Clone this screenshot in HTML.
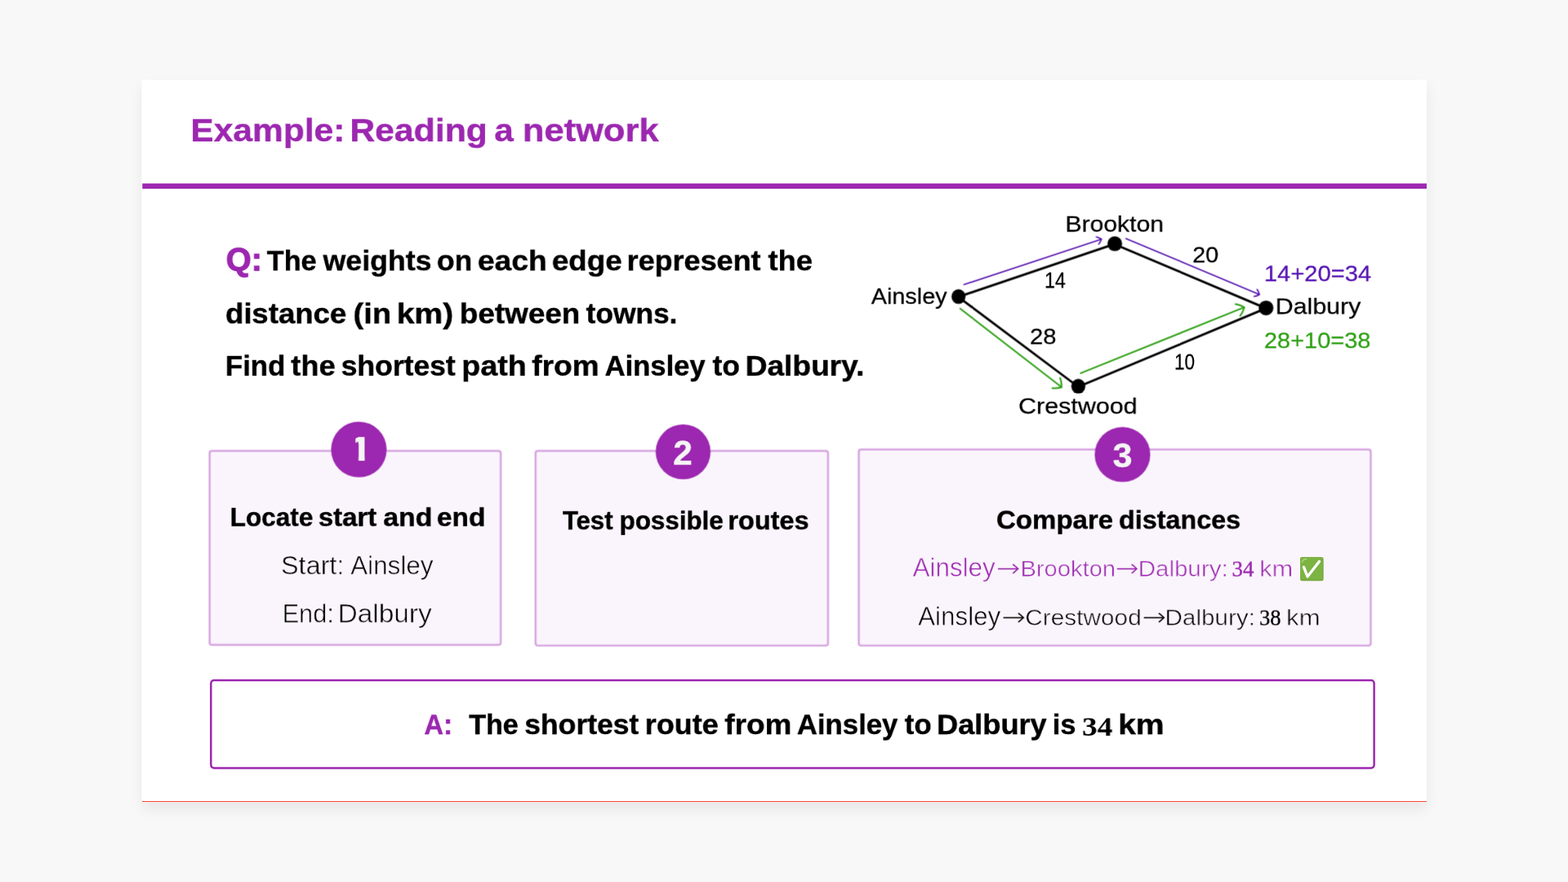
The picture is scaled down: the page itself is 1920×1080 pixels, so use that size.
<!DOCTYPE html><html lang="en"><head><meta charset="utf-8"><title>Example: Reading a network</title><style>
*{box-sizing:border-box;margin:0;padding:0}
html,body{width:1920px;height:1080px;overflow:hidden;background:#f8f8f8}
body{font-family:"Liberation Sans",sans-serif;color:#000;position:relative}
.stage{position:absolute;left:0;top:0;width:1920px;height:1080px;overflow:hidden}
.slide{position:absolute;left:0;top:0;width:1920px;height:1080px;background:#fff;transform-origin:0 0;transform:translate(173.5px,97.6px) scale(.8195);box-shadow:0 10px 20px rgba(0,0,0,.07)}
.foot{position:absolute;left:173.5px;top:981px;width:1573px;height:1px;background:#f44336}
.rule{position:absolute;left:.6px;top:155.2px;width:1919.4px;height:8px;background:#9c27b0}
.t{position:absolute;will-change:transform;white-space:nowrap;line-height:1;font-weight:700;transform-origin:0 0;color:#000;-webkit-text-stroke:.5px currentColor}
.t.r{font-weight:400;-webkit-text-stroke:0}
.graph .t{-webkit-text-stroke:.3px currentColor}
.t.lt{-webkit-text-stroke:.7px #faf5fc}
.t.sf{font-family:"Liberation Serif",serif;-webkit-text-stroke:0}
.t.r.sf{-webkit-text-stroke:.45px currentColor}
.t.hv{-webkit-text-stroke:1.3px currentColor}
.t.ar{font-family:"DejaVu Sans Light","DejaVu Sans",sans-serif;font-weight:200}
.t.pu{color:#9c27b0}
.t.vi{color:#5613b2}
.t.gr{color:#2fa015}
.box{position:absolute;border:3px solid #d7a6e0;background:#faf5fc;border-radius:5px}
.num{position:absolute;border-radius:50%;background:#9c27b0}
.node{position:absolute;border-radius:50%;background:#000}
.ans{position:absolute;border:3px solid #9c27b0;background:#fff;border-radius:6px}
svg{position:absolute;left:0;top:0;overflow:visible}
h1,p{font:inherit;margin:0}
</style></head><body><div class="stage"><main class="slide"><header><h1><span class="t pu" style="left:73.33px;top:50.89px;font-size:48.99px;transform:scaleX(1.0590)">Example:</span> <span class="t pu" style="left:311.08px;top:50.89px;font-size:48.99px;transform:scaleX(1.0640)">Reading</span> <span class="t pu" style="left:526.84px;top:50.89px;font-size:48.99px;transform:scaleX(1.0476)">a</span> <span class="t pu" style="left:568.74px;top:50.89px;font-size:48.99px;transform:scaleX(1.0839)">network</span></h1><div class="rule"></div></header><section class="question"><p><span class="t hv pu" style="left:125.64px;top:244.81px;font-size:47.17px;transform:scaleX(1.0279)">Q:</span> <span class="t" style="left:186.70px;top:248.81px;font-size:42.87px;transform:scaleX(0.9760)">The</span> <span class="t" style="left:271.33px;top:248.81px;font-size:42.87px;transform:scaleX(1.0162)">weights</span> <span class="t" style="left:440.87px;top:248.81px;font-size:42.87px;transform:scaleX(1.0095)">on</span> <span class="t" style="left:501.57px;top:248.81px;font-size:42.87px;transform:scaleX(1.0599)">each</span> <span class="t" style="left:612.75px;top:248.81px;font-size:42.87px;transform:scaleX(1.0460)">edge</span> <span class="t" style="left:724.77px;top:248.81px;font-size:42.87px;transform:scaleX(1.0239)">represent</span> <span class="t" style="left:936.18px;top:248.81px;font-size:42.87px;transform:scaleX(1.0325)">the</span> <span class="t" style="left:125.27px;top:327.64px;font-size:42.87px;transform:scaleX(1.0409)">distance</span> <span class="t" style="left:315.94px;top:327.64px;font-size:42.87px;transform:scaleX(1.0866)">(in</span> <span class="t" style="left:380.55px;top:327.64px;font-size:42.87px;transform:scaleX(1.1118)">km)</span> <span class="t" style="left:474.55px;top:327.64px;font-size:42.87px;transform:scaleX(1.0501)">between</span> <span class="t" style="left:664.06px;top:327.64px;font-size:42.87px;transform:scaleX(1.0059)">towns.</span> <span class="t" style="left:124.50px;top:405.73px;font-size:42.87px;transform:scaleX(0.9901)">Find</span> <span class="t" style="left:222.82px;top:405.73px;font-size:42.87px;transform:scaleX(1.0344)">the</span> <span class="t" style="left:297.98px;top:405.73px;font-size:42.87px;transform:scaleX(1.0100)">shortest</span> <span class="t" style="left:478.15px;top:405.73px;font-size:42.87px;transform:scaleX(1.0732)">path</span> <span class="t" style="left:583.43px;top:405.73px;font-size:42.87px;transform:scaleX(1.0535)">from</span> <span class="t" style="left:692.32px;top:405.73px;font-size:42.87px;transform:scaleX(0.9853)">Ainsley</span> <span class="t" style="left:853.33px;top:405.73px;font-size:42.87px;transform:scaleX(1.0060)">to</span> <span class="t" style="left:901.75px;top:405.73px;font-size:42.87px;transform:scaleX(1.0556)">Dalbury.</span></p></section><figure class="graph"><svg width="1920" height="1080" viewBox="0 0 1920 1080" aria-hidden="true"><g stroke="#000" stroke-width="3.42" stroke-linecap="round" fill="none"><line x1="1220.38" y1="324.47" x2="1453.81" y2="245.39"/><line x1="1453.81" y1="245.82" x2="1679.93" y2="341.49"/><line x1="1220.38" y1="324.83" x2="1399.33" y2="458.82"/><line x1="1399.33" y1="458.88" x2="1679.93" y2="341.49"/></g><g fill="none" stroke="#520fae" stroke-width="1.95" stroke-linejoin="miter" stroke-miterlimit="6"><line x1="1227.94" y1="306.28" x2="1434.12" y2="238.22"/><path d="M1429.52 246.28Q1432.63 242.71 1434.12 238.22Q1430.25 235.51 1425.63 234.49"/></g><g fill="none" stroke="#520fae" stroke-width="1.95" stroke-linejoin="miter" stroke-miterlimit="6"><line x1="1469.92" y1="236.97" x2="1670.16" y2="320.97"/><path d="M1661.41 324.03Q1666.09 323.38 1670.16 320.97Q1669.02 316.38 1666.21 312.58"/></g><g fill="none" stroke="#2fa015" stroke-width="2.44" stroke-linejoin="miter" stroke-miterlimit="6"><line x1="1222.21" y1="341.43" x2="1374.64" y2="459.41"/><path d="M1359.79 460.51Q1367.33 461.45 1374.64 459.41Q1374.78 451.82 1371.99 444.76"/></g><g fill="none" stroke="#2fa015" stroke-width="2.44" stroke-linejoin="miter" stroke-miterlimit="6"><line x1="1402.07" y1="438.80" x2="1647.48" y2="340.03"/><path d="M1640.94 353.41Q1645.55 347.37 1647.48 340.03Q1641.00 336.08 1633.50 334.92"/></g></svg><div class="node" style="left:1209.64px;top:312.93px;width:21.48px;height:22.57px"></div><div class="node" style="left:1443.08px;top:233.86px;width:21.48px;height:22.57px"></div><div class="node" style="left:1669.19px;top:329.53px;width:21.48px;height:22.57px"></div><div class="node" style="left:1388.59px;top:446.92px;width:21.48px;height:22.57px"></div><span class="t r" style="left:1379.68px;top:200.15px;font-size:32.95px;transform:scaleX(1.1164)">Brookton</span> <span class="t r" style="left:1090.18px;top:307.72px;font-size:32.95px;transform:scaleX(1.0662)">Ainsley</span> <span class="t r" style="left:1693.57px;top:323.21px;font-size:32.95px;transform:scaleX(1.1245)">Dalbury</span> <span class="t r" style="left:1310.40px;top:472.45px;font-size:32.95px;transform:scaleX(1.1285)">Crestwood</span> <span class="t r" style="left:1348.74px;top:283.68px;font-size:32.95px;transform:scaleX(0.8619)">14</span> <span class="t r" style="left:1570.16px;top:245.91px;font-size:32.95px;transform:scaleX(1.0678)">20</span> <span class="t r" style="left:1327.18px;top:367.63px;font-size:32.95px;transform:scaleX(1.0841)">28</span> <span class="t r" style="left:1543.37px;top:406.07px;font-size:32.95px;transform:scaleX(0.8330)">10</span> <span class="t r vi" style="left:1677.09px;top:274.04px;font-size:32.95px;transform:scaleX(1.0799)">14+20=34</span> <span class="t r gr" style="left:1677.29px;top:374.34px;font-size:32.95px;transform:scaleX(1.0740)">28+10=38</span></figure><section class="step"><div class="box" style="left:99.69px;top:552.90px;width:438.68px;height:293.11px"></div><div class="num" style="left:283.47px;top:511.41px;width:82.49px;height:82.49px"></div><span class="t" style="left:307.87px;top:527.13px;font-size:50.40px;transform:scaleX(1.3588);color:#f5f5f5;clip-path:polygon(8.10px 6.33px,18.68px 6.33px,18.68px 43.00px,11.76px 43.00px,11.76px 16.83px,8.10px 16.83px)">1</span> <span class="t" style="left:132.13px;top:634.75px;font-size:38.78px;transform:scaleX(0.9928)">Locate</span> <span class="t" style="left:264.15px;top:634.75px;font-size:38.78px;transform:scaleX(1.0370)">start</span> <span class="t" style="left:360.92px;top:634.75px;font-size:38.78px;transform:scaleX(1.0616)">and</span> <span class="t" style="left:440.82px;top:634.75px;font-size:38.78px;transform:scaleX(1.0528)">end</span> <span class="t r lt" style="left:208.28px;top:707.11px;font-size:38.78px;transform:scaleX(1.0203)">Start:</span> <span class="t r lt" style="left:312.02px;top:707.11px;font-size:38.78px;transform:scaleX(0.9897)">Ainsley</span> <span class="t r lt" style="left:209.88px;top:779.10px;font-size:38.78px;transform:scaleX(0.9679)">End:</span> <span class="t r lt" style="left:292.73px;top:779.10px;font-size:38.78px;transform:scaleX(1.0511)">Dalbury</span></section><section class="step"><div class="box" style="left:587.43px;top:552.78px;width:439.29px;height:294.08px"></div><div class="num" style="left:767.79px;top:514.95px;width:82.49px;height:82.49px"></div><span class="t" style="left:793.86px;top:533.47px;font-size:50.03px;transform:scaleX(1.0390);color:#f5f5f5">2</span> <span class="t" style="left:629.04px;top:639.75px;font-size:38.78px;transform:scaleX(0.9771)">Test</span> <span class="t" style="left:713.78px;top:639.75px;font-size:38.78px;transform:scaleX(0.9861)">possible</span> <span class="t" style="left:875.62px;top:639.75px;font-size:38.78px;transform:scaleX(1.0217)">routes</span></section><section class="step"><div class="box" style="left:1069.80px;top:551.43px;width:768.15px;height:296.03px"></div><div class="num" style="left:1424.28px;top:518.73px;width:82.49px;height:82.49px"></div><span class="t" style="left:1450.56px;top:536.77px;font-size:50.03px;transform:scaleX(1.0454);color:#f5f5f5">3</span> <span class="t" style="left:1276.84px;top:638.90px;font-size:38.78px;transform:scaleX(1.0384)">Compare</span> <span class="t" style="left:1459.90px;top:638.90px;font-size:38.78px;transform:scaleX(1.0174)">distances</span> <span class="t r lt pu" style="left:1152.29px;top:710.40px;font-size:38.78px;transform:scaleX(0.9877)">Ainsley</span> <span class="t r ar pu" style="left:1276.83px;top:712.40px;font-size:36.61px;transform:scaleX(1.1667)">→</span> <span class="t r lt pu" style="left:1312.66px;top:714.40px;font-size:33.36px;transform:scaleX(1.0639)">Brookton</span> <span class="t r ar pu" style="left:1454.66px;top:712.40px;font-size:36.61px;transform:scaleX(1.1422)">→</span> <span class="t r lt pu" style="left:1489.25px;top:714.40px;font-size:33.36px;transform:scaleX(1.0804)">Dalbury:</span> <span class="t r sf pu" style="left:1628.96px;top:714.40px;font-size:34.17px;transform:scaleX(0.9638)">34</span> <span class="t r lt pu" style="left:1669.77px;top:714.40px;font-size:33.36px;transform:scaleX(1.1256)">km</span> <span class="t r lt" style="left:1160.34px;top:782.89px;font-size:38.78px;transform:scaleX(0.9877)">Ainsley</span> <span class="t r ar" style="left:1284.75px;top:784.89px;font-size:36.61px;transform:scaleX(1.1689)">→</span> <span class="t r lt" style="left:1320.44px;top:786.89px;font-size:33.36px;transform:scaleX(1.0892)">Crestwood</span> <span class="t r ar" style="left:1494.64px;top:784.89px;font-size:36.61px;transform:scaleX(1.1667)">→</span> <span class="t r lt" style="left:1529.21px;top:786.89px;font-size:33.36px;transform:scaleX(1.0845)">Dalbury:</span> <span class="t r sf" style="left:1670.12px;top:786.89px;font-size:34.17px;transform:scaleX(0.9453)">38</span> <span class="t r lt" style="left:1709.76px;top:786.89px;font-size:33.36px;transform:scaleX(1.1436)">km</span><svg class="emoji" width="1920" height="1080" viewBox="0 0 1920 1080" aria-hidden="true"><rect x="1730.93" y="713.48" width="34.90" height="35.27" rx="2.68" fill="#689f38"/><rect x="1730.93" y="713.48" width="33.80" height="34.17" rx="2.44" fill="#7cb342"/><path d="M1734.11 721.05Q1734.47 716.66 1740.21 716.17" fill="none" stroke="#aed581" stroke-width="1.59" stroke-linecap="round"/><path d="M1736.42 728.25L1741.92 742.40L1759.61 719.83" fill="none" stroke="#fff" stroke-width="4.15" stroke-linecap="round" stroke-linejoin="round"/></svg></section><section class="answer"><div class="ans" style="left:101.59px;top:895.91px;width:1741.85px;height:134.17px"></div><p><span class="t pu" style="left:422.19px;top:942.40px;font-size:42.87px;transform:scaleX(0.9345)">A:</span> <span class="t" style="left:489.44px;top:942.40px;font-size:42.87px;transform:scaleX(0.9695)">The</span> <span class="t" style="left:571.56px;top:942.40px;font-size:42.87px;transform:scaleX(1.0100)">shortest</span> <span class="t" style="left:751.74px;top:942.40px;font-size:42.87px;transform:scaleX(1.0253)">route</span> <span class="t" style="left:870.80px;top:942.40px;font-size:42.87px;transform:scaleX(1.0508)">from</span> <span class="t" style="left:979.08px;top:942.40px;font-size:42.87px;transform:scaleX(0.9893)">Ainsley</span> <span class="t" style="left:1140.33px;top:942.40px;font-size:42.87px;transform:scaleX(0.9935)">to</span> <span class="t" style="left:1188.46px;top:942.40px;font-size:42.87px;transform:scaleX(1.0286)">Dalbury</span> <span class="t" style="left:1361.33px;top:942.40px;font-size:42.87px;transform:scaleX(0.9736)">is</span> <span class="t sf" style="left:1404.80px;top:946.62px;font-size:40.02px;transform:scaleX(1.1419)">34</span> <span class="t" style="left:1458.59px;top:942.40px;font-size:42.87px;transform:scaleX(1.1102)">km</span></p></section></main><div class="foot"></div></div></body></html>
